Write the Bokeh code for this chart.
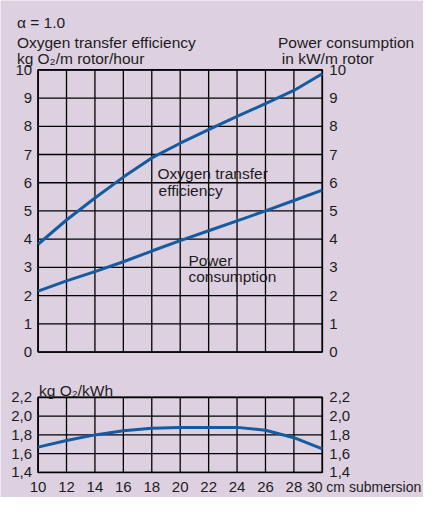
from bokeh.core.properties import value
from bokeh.embed import file_html
from bokeh.models import ColumnDataSource, Label, Range1d
from bokeh.plotting import figure
from bokeh.resources import INLINE

# ---------------- data ----------------
submersion_cm = [10, 12, 14, 16, 18, 20, 22, 24, 26, 28, 30]
oxygen_transfer = [3.82, 4.68, 5.46, 6.2, 6.88, 7.4, 7.88, 8.35, 8.8, 9.27, 9.86]
power_consumption = [2.16, 2.52, 2.85, 3.2, 3.58, 3.95, 4.3, 4.65, 5.0, 5.37, 5.74]
kg_o2_per_kwh = [1.67, 1.74, 1.80, 1.845, 1.87, 1.88, 1.88, 1.88, 1.85, 1.77, 1.65]

x_ticks = [10, 12, 14, 16, 18, 20, 22, 24, 26, 28, 30]
x_tick_labels = ["10", "12", "14", "16", "18", "20", "22", "24", "26", "28"]
x_last_label = "30 cm submersion"
main_y_ticks = [0, 1, 2, 3, 4, 5, 6, 7, 8, 9, 10]
main_y_labels = ["0", "1", "2", "3", "4", "5", "6", "7", "8", "9", "10"]
eff_y_ticks = [1.4, 1.6, 1.8, 2.0, 2.2]
eff_y_labels = ["1,4", "1,6", "1,8", "2,0", "2,2"]

# ---------------- style ----------------
FONT = "Liberation Sans"
BG = "#ddd1e1"
TXT = "#1e1b1d"
BLUE = "#145b9f"
W, H = 423, 497            # whole reference scaled into the window
REF_W, REF_H = 439, 516

# reference-pixel geometry of the two plot frames
X_L, X_R = 39, 334                 # x = 10 .. 30
MAIN_T, MAIN_B = 72, 365           # y = 10 .. 0
EFF_T, EFF_B = 412, 490            # y = 2.2 .. 1.4

xmin, xmax = x_ticks[0], x_ticks[-1]
ymin, ymax = main_y_ticks[0], main_y_ticks[-1]
emin, emax = eff_y_ticks[0], eff_y_ticks[-1]


def mx(px):
    return xmin + (px - X_L) * (xmax - xmin) / (X_R - X_L)


def my(py):
    return ymin + (MAIN_B - py) * (ymax - ymin) / (MAIN_B - MAIN_T)


def ey(py):
    return emin + (EFF_B - py) * (emax - emin) / (EFF_B - EFF_T)


p = figure(width=W, height=H, output_backend="svg", toolbar_location=None,
           x_range=Range1d(mx(0), mx(REF_W)), y_range=Range1d(my(REF_H), my(0)),
           x_axis_location=None, y_axis_location=None, min_border=0)
p.extra_y_ranges = {"eff": Range1d(ey(REF_H), ey(0))}
p.grid.visible = False
p.outline_line_color = None
p.background_fill_color = BG
p.border_fill_color = BG

src = ColumnDataSource(dict(x=submersion_cm, o2=oxygen_transfer,
                            pw=power_consumption, eff=kg_o2_per_kwh))

GRID = dict(line_color="black", line_width=1.3)
nx, nm, ne = len(x_ticks), len(main_y_ticks), len(eff_y_ticks)

# ---- main chart grid & frame ----
p.segment(x0=x_ticks, y0=[ymin] * nx, x1=x_ticks, y1=[ymax] * nx, **GRID)
p.segment(x0=[xmin] * nm, y0=main_y_ticks, x1=[xmax] * nm, y1=main_y_ticks, **GRID)
p.quad(left=[xmin], right=[xmax], bottom=[ymin], top=[ymax], fill_alpha=0,
       line_color="black", line_width=1.6)

# ---- efficiency chart grid & frame ----
p.segment(x0=x_ticks, y0=[emin] * nx, x1=x_ticks, y1=[emax] * nx,
          y_range_name="eff", **GRID)
p.segment(x0=[xmin] * ne, y0=eff_y_ticks, x1=[xmax] * ne, y1=eff_y_ticks,
          y_range_name="eff", **GRID)
p.quad(left=[xmin], right=[xmax], bottom=[emin], top=[emax], fill_alpha=0,
       line_color="black", line_width=1.6, y_range_name="eff")

# ---- curves ----
p.line("x", "o2", source=src, line_color=BLUE, line_width=3)
p.line("x", "pw", source=src, line_color=BLUE, line_width=3)
p.line("x", "eff", source=src, line_color=BLUE, line_width=3, y_range_name="eff")

# ---- tick labels ----
TICK = dict(text_font=value(FONT), text_font_size=value("15px"), text_color=TXT)
p.text(x=[xmin] * nm, y=main_y_ticks, text=main_y_labels, x_offset=-6,
       text_align="right", text_baseline="middle", **TICK)
p.text(x=[xmax] * nm, y=main_y_ticks, text=main_y_labels, x_offset=7,
       text_align="left", text_baseline="middle", **TICK)
p.text(x=[xmin] * ne, y=eff_y_ticks, text=eff_y_labels, x_offset=-6,
       text_align="right", text_baseline="middle", y_range_name="eff", **TICK)
p.text(x=[xmax] * ne, y=eff_y_ticks, text=eff_y_labels, x_offset=7,
       text_align="left", text_baseline="middle", y_range_name="eff", **TICK)
p.text(x=x_ticks[:-1], y=[ey(505)] * (nx - 1), text=x_tick_labels, text_align="center",
       text_baseline="alphabetic", y_range_name="eff", **TICK)
p.add_layout(Label(x=mx(318), y=my(505), text=x_last_label, text_font=FONT,
                   text_font_size="14px", text_color=TXT,
                   text_align="left", text_baseline="alphabetic"))


def lab(px, py, text, size="15.5px"):
    p.add_layout(Label(x=mx(px), y=my(py), text=text, text_font=FONT,
                       text_font_size=size, text_color=TXT,
                       text_align="left", text_baseline="alphabetic"))


lab(17, 23, "α = 1.0")
lab(17, 43.5, "Oxygen transfer efficiency")
lab(17, 60.5, "kg O₂/m rotor/hour")
lab(288, 43.5, "Power consumption")
lab(292, 60, "in kW/m rotor")
lab(163, 180, "Oxygen transfer")
lab(164, 197, "efficiency")
lab(195, 270, "Power")
lab(195, 287, "consumption")
lab(40, 404.5, "kg O₂/kWh")

open("out.html", "w").write(file_html(p, INLINE))
